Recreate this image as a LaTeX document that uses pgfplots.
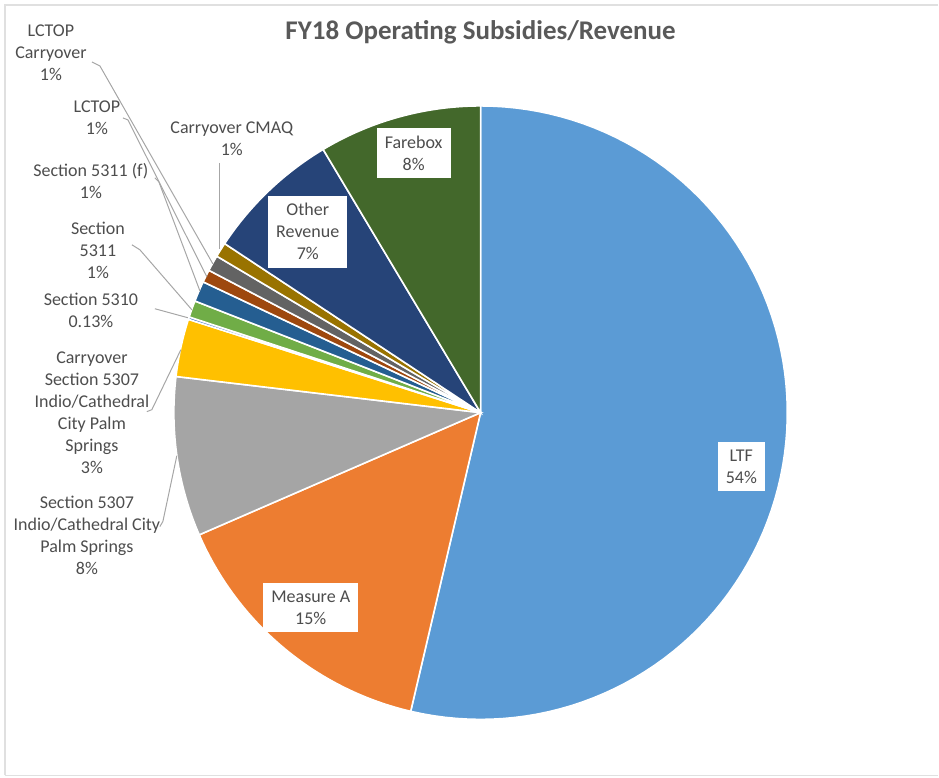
\documentclass[border=0pt]{standalone}
\usepackage{pgfplots}
\pgfplotsset{compat=1.18}
\usepackage{fontspec}
\setmainfont{Carlito}
\definecolor{cLTF}{HTML}{5B9BD5}
\definecolor{cMeasA}{HTML}{ED7D31}
\definecolor{cSec5307}{HTML}{A5A5A5}
\definecolor{cCarry5307}{HTML}{FFC000}
\definecolor{cSec5310}{HTML}{4472C4}
\definecolor{cSec5311}{HTML}{70AD47}
\definecolor{cSec5311f}{HTML}{255E91}
\definecolor{cLCTOP}{HTML}{9E480E}
\definecolor{cLCTOPc}{HTML}{636363}
\definecolor{cCMAQ}{HTML}{997300}
\definecolor{cOther}{HTML}{264478}
\definecolor{cFare}{HTML}{43682B}
\definecolor{txt}{HTML}{4D4D4D}
\definecolor{ttl}{HTML}{595959}
\definecolor{lead}{HTML}{A6A6A6}
\tikzset{
  lbl/.style={font=\fontsize{9}{11}\selectfont, text=txt, align=center, inner sep=0pt},
  box/.style={font=\fontsize{9}{11}\selectfont, text=txt, align=center, fill=white, inner xsep=4pt, inner ysep=4pt},
}
% slice: start %, end % (cumulative, clockwise from 12 o'clock), colour
\newcommand{\slice}[3]{%
  \addplot[fill=#3, draw=white, line width=0.8pt, domain=#1*3.6:#2*3.6, samples=90, variable=\t]
    ({481+307*sin(\t)},{365+307*cos(\t)}) -- (axis cs:481,365) -- cycle;}
\begin{document}
\begin{tikzpicture}
\begin{axis}[
  scale only axis, width=469.5pt, height=389pt,
  xmin=0, xmax=939, ymin=0, ymax=778,
  hide axis, clip=false,
]
\path (axis cs:0,0) rectangle (axis cs:939,778);
% frame
\addplot[color=black!12, line width=0.8pt] coordinates {(5,2) (5,773) (939,773)};
\addplot[color=black!12, line width=0.8pt] coordinates {(5,2) (939,2)};
% values (%): LTF 53.66, Measure A 14.82, Sec 5307 8.40, Carryover 5307 3.04,
% Sec 5310 0.13, Sec 5311 0.88, Sec 5311(f) 1.08, LCTOP 0.67, LCTOP Carryover 0.84,
% Carryover CMAQ 0.77, Other Revenue 7.13, Farebox 8.58
\slice{0}{53.66}{cLTF}
\slice{53.66}{68.48}{cMeasA}
\slice{68.48}{76.88}{cSec5307}
\slice{76.88}{79.92}{cCarry5307}
\slice{79.92}{80.05}{cSec5310}
\slice{80.05}{80.93}{cSec5311}
\slice{80.93}{82.01}{cSec5311f}
\slice{82.01}{82.68}{cLCTOP}
\slice{82.68}{83.52}{cLCTOPc}
\slice{83.52}{84.29}{cCMAQ}
\slice{84.29}{91.42}{cOther}
\slice{91.42}{100}{cFare}
% leader lines
\addplot[lead, line width=0.5pt] coordinates {(92,716) (100,712) (213,514)};
\addplot[lead, line width=0.5pt] coordinates {(123,660) (128,658) (207,501)};
\addplot[lead, line width=0.5pt] coordinates {(155,600) (159,596) (200,487)};
\addplot[lead, line width=0.5pt] coordinates {(132,533) (140,528) (192,468)};
\addplot[lead, line width=0.5pt] coordinates {(155,469) (188,460)};
\addplot[lead, line width=0.5pt] coordinates {(147,366) (152,368) (181,428)};
\addplot[lead, line width=0.5pt] coordinates {(160,251) (163,256) (177,322)};
\addplot[lead, line width=0.5pt] coordinates {(220,615) (220,529)};
% title
\node[font=\fontsize{13.5}{15}\selectfont\bfseries, text=ttl] at (axis cs:481,746) {FY18 Operating Subsidies/Revenue};
% outside labels
\node[lbl] at (axis cs:51,725) {LCTOP\\Carryover\\1\%};
\node[lbl] at (axis cs:97,660) {LCTOP\\1\%};
\node[lbl] at (axis cs:232,639) {Carryover CMAQ\\1\%};
\node[lbl] at (axis cs:91,597) {Section 5311 (f)\\1\%};
\node[lbl] at (axis cs:98,527) {Section\\5311\\1\%};
\node[lbl] at (axis cs:91,467) {Section 5310\\0.13\%};
\node[lbl] at (axis cs:92,365) {Carryover\\Section 5307\\Indio/Cathedral\\City Palm\\Springs\\3\%};
\node[lbl] at (axis cs:87,242) {Section 5307\\Indio/Cathedral City\\Palm Springs\\8\%};
% inside labels
\node[box] at (axis cs:414,625) {Farebox\\8\%};
\node[box] at (axis cs:308,546) {Other\\Revenue\\7\%};
\node[box] at (axis cs:742,311) {LTF\\54\%};
\node[box] at (axis cs:311,170) {Measure A\\15\%};
\end{axis}
\end{tikzpicture}
\end{document}
